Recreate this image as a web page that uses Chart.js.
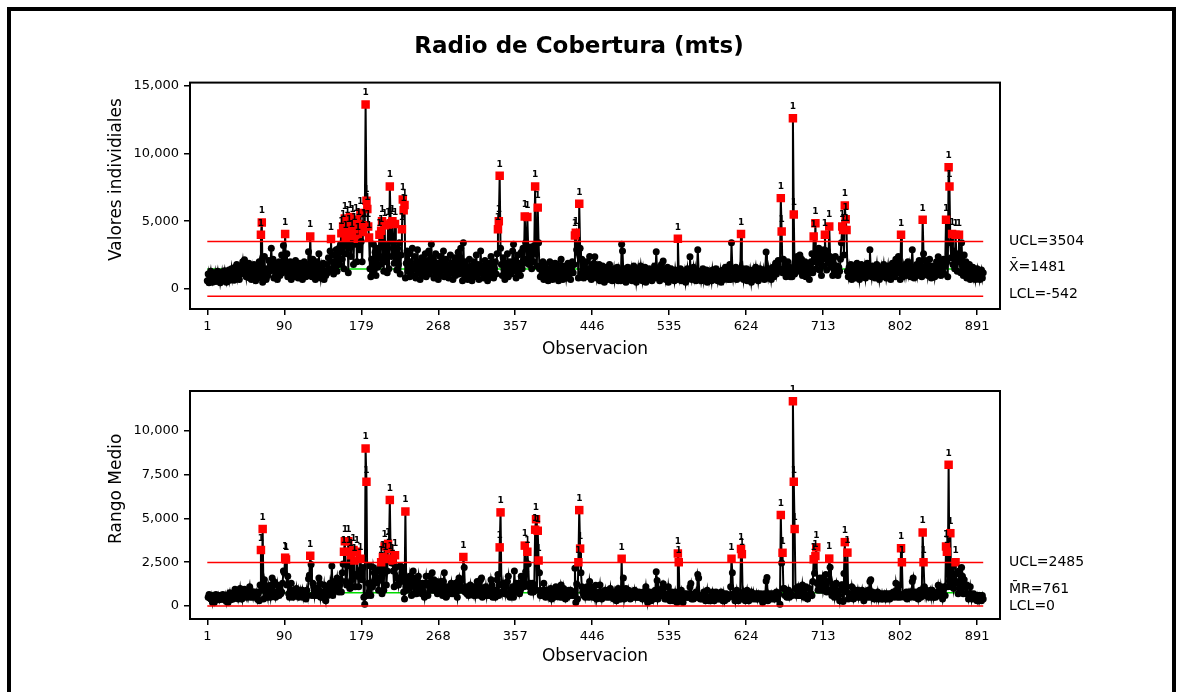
<!DOCTYPE html>
<html><head><meta charset="utf-8">
<script src="https://cdn.jsdelivr.net/npm/chart.js@4.4.0/dist/chart.umd.min.js"></script>
<style>
html,body{margin:0;padding:0;background:#fff;width:1182px;height:692px;overflow:hidden;}
#frame{position:absolute;left:7px;top:7px;width:1161px;height:720px;border:4px solid #000;}
#c1{position:absolute;left:0;top:0;}
#c2{position:absolute;left:0;top:370px;}
</style></head>
<body>
<div id="frame"></div>
<canvas id="c1" width="1182" height="370" style="width:1182px;height:370px"></canvas>
<canvas id="c2" width="1182" height="322" style="width:1182px;height:322px"></canvas>
<script>
const valores = [
600,1100,450,900,1300,700,500,1000,800,1200,
550,950,1300,700,1050,450,850,1250,600,1000,
1350,750,500,1100,900,1400,650,1000,1500,800,
1200,650,1600,1000,1800,900,1300,700,1700,1100,
1500,2000,1200,2150,1400,900,1700,1100,1900,800,
1300,700,1500,1000,1800,1200,600,1400,1000,1700,
2000,800,4000,4900,500,900,2400,1200,700,1500,
1000,2100,1300,1800,3000,1400,2200,800,1600,1100,
1900,700,1400,2000,1000,1700,2500,1200,3200,1300,
4060,1400,2600,900,1600,1100,2000,700,1300,1800,
900,1500,2100,1100,1700,800,1300,1900,1000,1600,
700,1200,2000,1300,900,1800,1200,2750,1000,3870,
1500,900,2200,1100,1700,700,1400,2000,1000,2600,
1300,800,1600,1100,1900,700,1300,1000,1800,1200,
2300,1500,2800,3680,1400,2000,1100,2500,1600,2900,
1300,2200,3000,1800,3300,4100,2200,4600,1500,5200,
3800,2600,4900,1200,4300,5300,2400,3900,5000,1800,
4400,3300,5100,2000,3700,4800,2900,5600,3500,2000,
4200,4700,4600,13600,6500,5900,4600,3800,1500,900,
2200,1100,3300,1400,2700,1000,3000,1600,2500,4000,
1800,4300,5000,2200,1300,4700,2000,3200,1200,4750,
1500,7560,4850,2400,5000,3000,1900,4800,2600,1400,
3000,1800,3400,1100,2500,4400,6600,5800,6200,800,
1900,2800,1300,2600,900,2000,1400,3000,1000,1700,
2400,800,1500,2900,1200,2000,700,1600,2300,1000,
1800,1300,2600,900,2100,1500,2800,1100,2000,3300,
1400,2300,800,1700,2600,1200,1900,700,1500,2400,
1000,2000,1400,2800,900,1700,2200,1100,1800,800,
1500,2500,1200,1900,700,1600,2300,1000,1800,1300,
2700,1100,2000,3000,1500,600,3400,1200,2000,900,
1600,700,1300,2200,1000,1700,600,1400,2000,900,
1500,2500,1100,1800,700,1300,2800,1200,1700,800,
1400,2100,1000,1600,600,1300,1900,900,2400,1200,
1700,800,1500,2000,1100,2600,4400,5000,8350,3000,
1800,1000,2300,1400,700,1900,1200,2600,900,1500,
2000,1100,1700,2800,3300,1300,2100,800,1600,2500,
1200,1900,1000,2700,1500,3000,1900,5350,3400,2200,
5300,2900,1800,3100,2300,1500,2800,2000,3200,7560,
2600,1700,6000,3400,1500,900,1700,1100,2000,700,
1300,1800,900,1500,600,1200,2000,1000,1400,700,
1600,1100,1900,800,1840,1300,600,1500,1000,2200,
1200,700,1700,1100,1500,800,1300,1900,1000,1600,
700,1400,2000,1200,1800,3950,4150,2900,3300,800,
6280,3000,1100,2200,1400,800,1700,1200,2000,900,
1500,1000,2400,1300,700,1600,1100,1900,2380,1200,
800,1500,1000,1800,600,1300,900,1700,1100,500,
1400,900,1600,700,1200,1800,800,1300,600,1100,
1500,700,1200,900,1600,600,1400,1000,600,3300,
2800,1200,800,1500,500,1100,1600,700,1300,900,
1400,600,1100,1700,800,1300,500,1000,1500,700,
1200,1700,1000,600,1400,900,1600,500,1100,1300,
700,1500,900,1200,600,1400,1000,1700,800,2750,
1300,900,1500,600,1200,1800,800,2070,1000,1400,
700,1100,1600,500,1200,900,1500,700,1300,1000,
600,1400,900,700,3700,1200,800,1500,600,1100,
1300,700,1200,500,1000,1500,800,1300,2380,1100,
700,1200,1600,900,1400,600,1100,2900,1300,800,
1200,600,1000,1500,700,1200,900,1400,500,1000,
1300,800,1100,600,1400,900,1200,700,1500,1000,
600,1200,800,1300,500,1100,1400,700,1000,1600,
900,1300,700,1200,1800,700,3400,1500,800,1300,
1000,1600,700,1200,900,1400,800,4060,1100,1500,
700,1200,900,1500,600,1100,1400,800,1300,500,
1000,1400,700,1200,1600,900,1300,600,1100,1500,
800,1200,1000,1400,700,1300,2730,1100,800,1500,
1000,1400,700,1200,1600,900,1300,1900,1100,1500,
2100,1400,1500,6700,4240,1200,2200,1200,1800,900,
1400,2000,1100,1600,900,1500,900,12600,5500,1100,
2100,1500,2400,1300,1900,2500,1600,2200,1000,1800,
1300,2000,900,1500,1100,1700,700,1300,2000,2600,
1200,3870,2000,4850,1500,2800,1900,3000,1400,2300,
1000,2600,1700,2900,4000,2200,1400,2800,1900,4610,
2400,1600,2200,1000,1800,1300,2400,1100,1700,1000,
1600,1300,2200,3400,4610,4350,2500,6150,5150,4350,
1300,900,1600,1100,1800,700,1400,1000,1700,800,
1300,1900,1000,1500,700,1200,1800,900,1400,1100,
1600,800,1300,1900,1000,1500,2900,1400,900,1700,
1100,1500,800,1300,1800,1000,1400,700,1200,1600,
900,1300,1800,1100,1500,800,1200,1700,1000,1400,
700,1300,1900,1100,1600,900,2200,1300,1800,2400,
1200,700,4000,1500,900,1600,1100,1800,1000,1400,
2000,1200,1700,900,1500,2900,1300,800,1600,1100,
1800,1000,1400,2100,1200,1700,900,5100,2600,1500,
2100,1200,1800,1000,1500,2200,1300,800,1700,1100,
1600,900,1400,2000,1200,2380,1500,2100,1000,1700,
1300,2200,1100,1700,5100,2000,900,8970,7560,3400,
2300,4060,1800,2800,1500,4000,2600,1300,2000,4000,
2200,1200,3400,1700,1000,2500,1300,2000,800,1500,
1100,1800,700,1400,1000,1600,900,1300,700,1200,
1500,900,1300,700,1100,1400,800,1200
];
const xTickValues = [1,90,179,268,357,446,535,624,713,802,891];
const yTicksInd = [0,5000,10000,15000];
const yTicksMR = [0,2500,5000,7500,10000];
const limitsInd = [3504, 1481, -542];   // UCL, X-bar, LCL
const limitsMR = [2485, 761, 0];        // UCL, MR-bar, LCL
const labelsInd = ['UCL=3504', 'X\u0304=1481', 'LCL=-542'];
const labelsMR = ['UCL=2485', 'M\u0304R=761', 'LCL=0'];

const N = valores.length;
const indPts = valores.map((v, i) => ({x: i + 1, y: v}));
const mrPts = [];
for (let i = 1; i < N; i++) mrPts.push({x: i + 1, y: Math.abs(valores[i] - valores[i - 1])});

const RED = '#ff0000', GREEN = '#00dd00', FONT = 'DejaVu Sans';

const framePlugin = {
  id: 'frame',
  afterDatasetsDraw(chart) {
    const {ctx, chartArea: a} = chart;
    ctx.save(); ctx.strokeStyle = '#000'; ctx.lineWidth = 2;
    ctx.strokeRect(a.left, a.top, a.right - a.left, a.bottom - a.top);
    ctx.restore();
  }
};
const flagPlugin = {
  id: 'flags',
  afterDatasetsDraw(chart, args, opts) {
    const meta = chart.getDatasetMeta(opts.index);
    const ds = chart.data.datasets[opts.index];
    const ctx = chart.ctx;
    ctx.save(); ctx.fillStyle = '#000'; ctx.font = 'bold 9px "' + FONT + '"';
    ctx.textAlign = 'center'; ctx.textBaseline = 'bottom';
    meta.data.forEach((el, i) => { if (ds.data[i].y > opts.ucl) ctx.fillText('1', el.x, el.y - 7); });
    ctx.restore();
  }
};
const sidePlugin = {
  id: 'side',
  afterDraw(chart, args, opts) {
    const ctx = chart.ctx, ys = chart.scales.y;
    ctx.save(); ctx.fillStyle = '#000'; ctx.font = '14px "' + FONT + '"';
    ctx.textAlign = 'left'; ctx.textBaseline = 'middle';
    opts.labels.forEach((t, k) => ctx.fillText(t, chart.chartArea.right + 9, ys.getPixelForValue(opts.values[k]) + opts.dy[k]));
    ctx.restore();
  }
};

function limitLine(y, color, w) {
  return {type: 'line', data: [{x: 1, y: y}, {x: N, y: y}], borderColor: color, borderWidth: w, pointRadius: 0, fill: false};
}
function dataSet(pts, ucl) {
  return {
    type: 'line', data: pts, borderColor: '#000', borderWidth: 2, tension: 0, fill: false,
    pointRadius: pts.map(p => p.y > ucl ? 6 : 3.5),
    pointStyle: pts.map(p => p.y > ucl ? 'rect' : 'circle'),
    pointBackgroundColor: pts.map(p => p.y > ucl ? RED : '#000'),
    pointBorderColor: pts.map(p => p.y > ucl ? RED : '#000'),
    pointBorderWidth: 0
  };
}
function scales(ymin, ymax, yTicks, yTitle, xHeight, xTitlePad) {
  return {
    x: {
      type: 'linear', min: -19, max: 917.4,
      afterBuildTicks: s => { s.ticks = xTickValues.map(v => ({value: v})); },
      afterFit: s => { s.height = xHeight; },
      ticks: {color: '#000', font: {family: FONT, size: 13}, padding: 4, maxRotation: 0, autoSkip: false},
      grid: {drawOnChartArea: false, drawTicks: true, tickLength: 6, color: '#000', lineWidth: 1.5},
      border: {display: false},
      title: {display: true, text: 'Observacion', color: '#000', font: {family: FONT, size: 17}, padding: {top: 0, bottom: xTitlePad}}
    },
    y: {
      min: ymin, max: ymax,
      afterBuildTicks: s => { s.ticks = yTicks.map(v => ({value: v})); },
      afterFit: s => { s.width = 190; },
      ticks: {color: '#000', font: {family: FONT, size: 13}, padding: 5, callback: v => v.toLocaleString('en-US')},
      grid: {drawOnChartArea: false, drawTicks: true, tickLength: 6, color: '#000', lineWidth: 1.5},
      border: {display: false},
      title: {display: true, text: yTitle, color: '#000', font: {family: FONT, size: 17}, padding: {top: 106, bottom: 0}}
    },
    // empty right-hand band reserving room for the limit labels
    yr: {
      position: 'right', display: true, min: 0, max: 1,
      afterFit: s => { s.width = 158; },
      ticks: {display: false}, grid: {display: false}, border: {display: false}
    }
  };
}

new Chart(document.getElementById('c1'), {
  data: {datasets: [
    limitLine(limitsInd[0], RED, 1.5),
    limitLine(limitsInd[2], RED, 1.5),
    dataSet(indPts, limitsInd[0]),
    limitLine(limitsInd[1], GREEN, 1.5)
  ]},
  options: {
    responsive: false, devicePixelRatio: 1, animation: false,
    layout: {padding: {left: 0, right: 24, top: 0, bottom: 0}},
    scales: scales(-1478, 15222, yTicksInd, '      Valores individiales', 61, 9.8),
    plugins: {
      legend: {display: false}, tooltip: {enabled: false},
      title: {display: true, text: 'Radio de Cobertura (mts)', color: '#000',
        font: {family: FONT, size: 23, weight: 'bold'}, padding: {top: 33, bottom: 22}},
      flags: {index: 2, ucl: limitsInd[0]},
      side: {labels: labelsInd, values: limitsInd, dy: [0, -2, -2]}
    }
  },
  plugins: [framePlugin, flagPlugin, sidePlugin]
});

new Chart(document.getElementById('c2'), {
  data: {datasets: [
    limitLine(limitsMR[0], RED, 1.5),
    limitLine(limitsMR[2], RED, 1.5),
    dataSet(mrPts, limitsMR[0]),
    limitLine(limitsMR[1], GREEN, 1.5)
  ]},
  options: {
    responsive: false, devicePixelRatio: 1, animation: false,
    layout: {padding: {left: 0, right: 24, top: 21, bottom: 0}},
    scales: scales(-743, 12286, yTicksMR, '      Rango Medio', 73, 24.8),
    plugins: {
      legend: {display: false}, tooltip: {enabled: false},
      flags: {index: 2, ucl: limitsMR[0]},
      side: {labels: labelsMR, values: limitsMR, dy: [0, -3, 0]}
    }
  },
  plugins: [framePlugin, flagPlugin, sidePlugin]
});
</script>
</body></html>
